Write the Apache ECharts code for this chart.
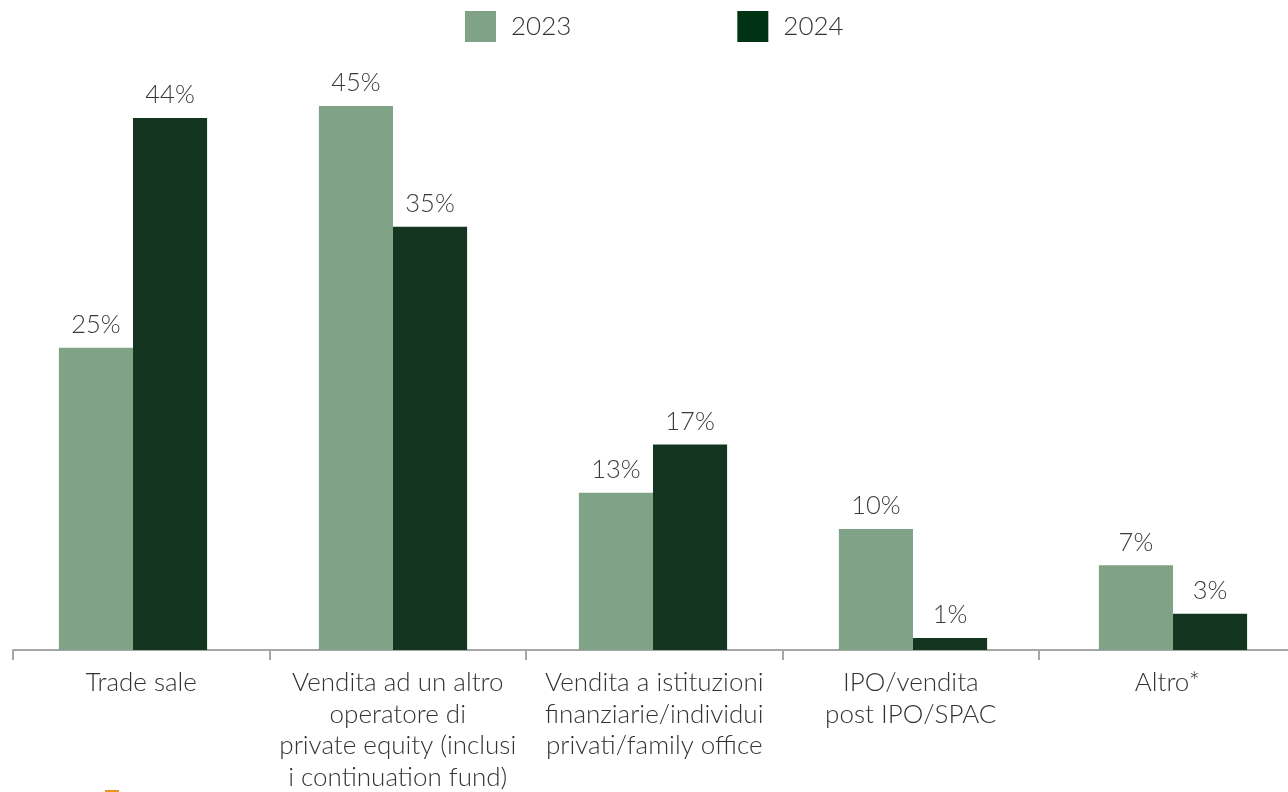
<!DOCTYPE html>
<html><head><meta charset="utf-8">
<script src="https://cdn.jsdelivr.net/npm/echarts@6/dist/echarts.min.js"></script>
<style>html,body{margin:0;padding:0;background:#fff;}#c{width:1288px;height:792px;}</style>
</head><body><div id="c"></div>
<script>
const categories = [
  "Trade sale",
  "Vendita ad un altro\noperatore di\nprivate equity (inclusi\ni continuation fund)",
  "Vendita a istituzioni\nfinanziarie/individui\nprivati/family office",
  "IPO/vendita\npost IPO/SPAC",
  "Altro*"
];
const seriesNames = ["2023", "2024"];
const values2023 = [25, 45, 13, 10, 7];
const values2024 = [44, 35, 17, 1, 3];

const FONT = "Lato";
const chart = echarts.init(document.getElementById('c'), null, {renderer: 'canvas'});
const labelStyle = {
  show: true, position: 'top', distance: 10,
  formatter: p => p.value + '%',
  fontFamily: FONT, fontWeight: 300, fontSize: 25.5, color: '#3a3a3a'
};
chart.setOption({
  animation: false,
  backgroundColor: '#ffffff',
  legend: {
    left: 460, top: 6, itemWidth: 31, itemHeight: 31, itemGap: 166,
    icon: 'rect',
    data: [
      {name: seriesNames[0], itemStyle: {color: '#80a387'}},
      {name: seriesNames[1], itemStyle: {color: '#003314'}}
    ],
    textStyle: {fontFamily: FONT, fontWeight: 300, fontSize: 26, color: '#333', padding: [0, 0, 0, 10]}
  },
  grid: [
    {left: 13, top: 45.5, width: 1282.5, bottom: 142, containLabel: false, outerBoundsMode: 'none'},
    {left: 3, top: 45.5, width: 1300, bottom: 142, containLabel: false, outerBoundsMode: 'none'}
  ],
  xAxis: [
    {
      type: 'category', data: categories, gridIndex: 0,
      axisLine: {show: true, lineStyle: {color: '#a6a6a6', width: 2}},
      axisTick: {show: true, length: 10, lineStyle: {color: '#a6a6a6', width: 2}},
      axisLabel: {interval: 0, margin: 17, fontFamily: FONT, fontWeight: 300, fontSize: 26, lineHeight: 31.5, color: '#333', align: 'center'}
    },
    {type: 'category', data: categories, gridIndex: 1, show: false}
  ],
  yAxis: [
    {type: 'value', min: 0, max: 50, show: false, splitLine: {show: false}, gridIndex: 0},
    {type: 'value', min: 0, max: 50, show: false, splitLine: {show: false}, gridIndex: 1}
  ],
  series: [
    {name: seriesNames[0], type: 'bar', data: values2023, barGap: '0%', barCategoryGap: '43%',
     xAxisIndex: 1, yAxisIndex: 1, z: 1,
     itemStyle: {color: '#80a387'}, label: labelStyle},
    {name: seriesNames[1], type: 'bar', data: values2024,
     xAxisIndex: 1, yAxisIndex: 1, z: 1,
     itemStyle: {color: '#143620'}, label: labelStyle}
  ],
  graphic: [{type: 'rect', left: 105, top: 790, shape: {width: 14, height: 2}, style: {fill: '#f0921e'}, silent: true}]
});
</script></body></html>
